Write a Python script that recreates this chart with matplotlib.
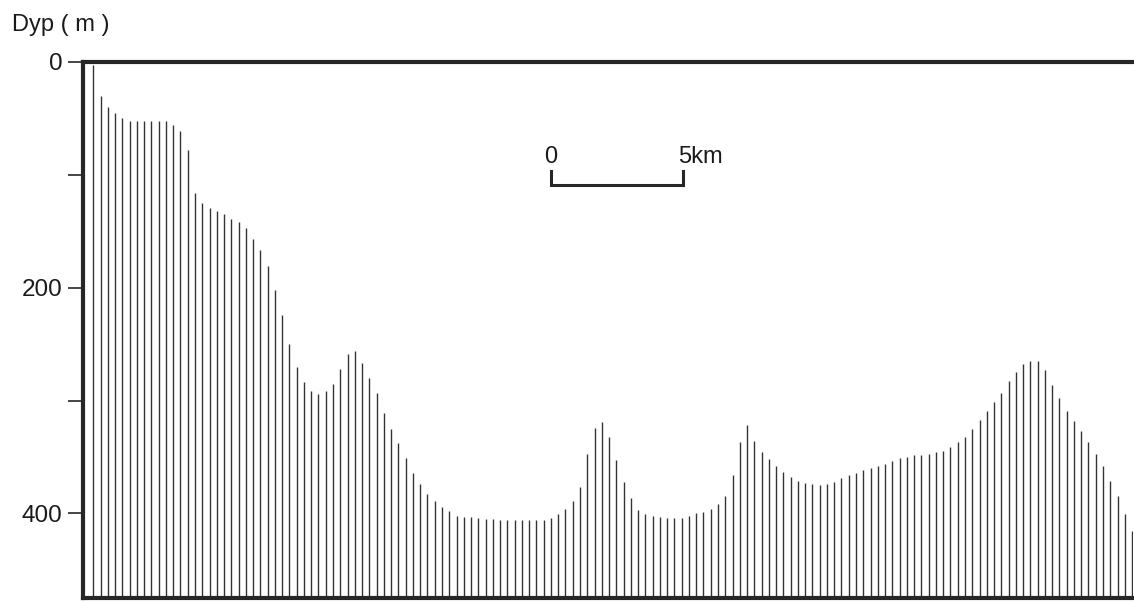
#!/usr/bin/env python3

import numpy as np
import matplotlib
matplotlib.use('Agg')
import matplotlib.pyplot as plt

plt.rcParams['font.family'] = ['Liberation Sans', 'DejaVu Sans']

# depth (m) of each sounding along the profile
depth = [3, 30, 40, 45, 50, 52, 52, 52, 52, 52, 52, 56, 61, 78, 116, 125, 129, 132, 135, 139,
         142, 147, 157, 167, 181, 202, 224, 250, 270, 284, 292, 294, 292, 285, 272, 259, 256, 267, 280, 293,
         311, 325, 338, 351, 364, 374, 383, 389, 394, 398, 402, 403, 403, 404, 405, 405, 406, 406, 406, 406,
         406, 406, 406, 404, 401, 396, 389, 377, 347, 324, 319, 332, 353, 372, 386, 397, 401, 402, 403, 404,
         404, 404, 402, 400, 399, 396, 392, 385, 366, 337, 322, 336, 346, 352, 358, 363, 368, 371, 373, 374,
         375, 374, 372, 369, 366, 364, 362, 360, 358, 356, 354, 351, 350, 348, 348, 347, 346, 345, 341, 337,
         332, 325, 317, 309, 301, 293, 283, 275, 268, 265, 265, 273, 286, 298, 309, 318, 327, 337, 347, 358,
         371, 385, 401, 416]
spacing_km = 0.2752          # distance between soundings
bottom_depth = 475           # lower frame of the section

y_ticks = [0, 100, 200, 300, 400]
y_ticklabels = ['0', '', '200', '', '400']

scale_start_km = 17.33
scale_len_km = 5

dist = np.arange(len(depth)) * spacing_km

fig = plt.figure(figsize=(11.34, 6.03), dpi=100)
ax = fig.add_axes([82.5 / 1134, 1 - 598 / 603, (1133 - 82.5) / 1134, (598 - 62) / 603])

ink = '#262626'
ax.vlines(dist, depth, bottom_depth, color='#333333', linewidth=1.0)

ax.set_xlim(-1.487 * spacing_km, 143.13 * spacing_km)
ax.set_ylim(bottom_depth, 0)

for side in ['left', 'top', 'bottom']:
    ax.spines[side].set_linewidth(3)
    ax.spines[side].set_color(ink)
ax.spines['right'].set_visible(False)

ax.set_xticks([])
ax.set_yticks(y_ticks)
ax.set_yticklabels(y_ticklabels)
ax.tick_params(axis='y', direction='out', length=11, width=1.2, color=ink, pad=3.5,
               labelsize=17.5, labelcolor='#1a1a1a')

# scale bar
sx0 = scale_start_km
sx1 = scale_start_km + scale_len_km
ax.plot([sx0, sx0, sx1, sx1], [97, 109, 109, 97], color=ink, linewidth=2.2,
        solid_joinstyle='miter', clip_on=False)
ax.text(sx0, 84, '0', ha='center', va='center', fontsize=17, color='#1a1a1a')
ax.text(sx1 - 0.18, 84, '5km', ha='left', va='center', fontsize=17, color='#1a1a1a')

fig.text(12 / 1134, 1 - 25 / 603, 'Dyp ( m )', ha='left', va='center', fontsize=17, color='#1a1a1a')

plt.savefig('out.png', dpi=100)
